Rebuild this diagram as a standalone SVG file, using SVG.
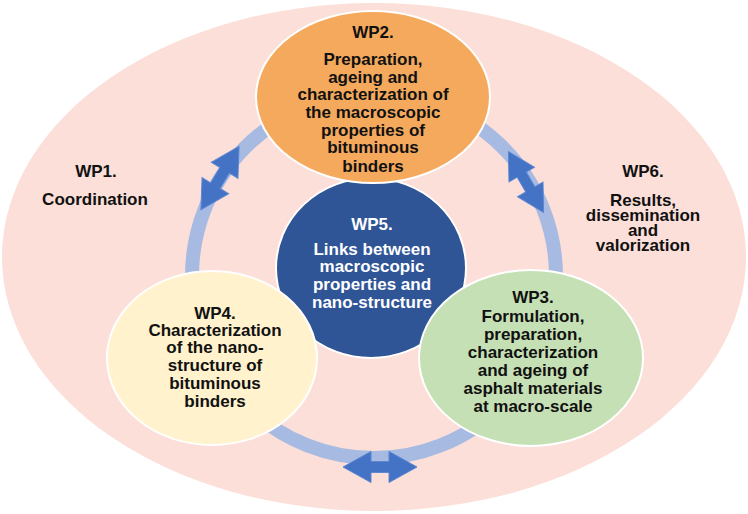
<svg xmlns="http://www.w3.org/2000/svg" width="748" height="514" viewBox="0 0 748 514">
  <defs>
    <style>
      .t { font-family: "Liberation Sans", Arial, sans-serif; font-weight: bold; font-size: 17px; text-anchor: middle; fill: #111; }
      .w { fill: #ffffff; }
      .node { stroke: #ffffff; stroke-width: 2; }
      .arrow { fill: #4472C4; stroke: #5A86D2; stroke-width: 1; }
    </style>
    <!-- double-headed block arrow centred on the origin, pointing along x -->
    <path id="dblArrow" d="M -37,0 L -9,-15.5 L -9,-5.5 L 9,-5.5 L 9,-15.5 L 37,0 L 9,15.5 L 9,5.5 L -9,5.5 L -9,15.5 Z"/>
  </defs>

  <rect width="748" height="514" fill="#ffffff"/>

  <!-- WP1 / WP6 background field -->
  <g id="wp-frame">
    <ellipse cx="374" cy="257" rx="372" ry="254" fill="#FBDFD8"/>
  </g>

  <!-- connecting ring and exchange arrows -->
  <g id="connectors">
    <circle cx="374" cy="276" r="182" fill="none" stroke="#A7BAE2" stroke-width="14"/>
    <use href="#dblArrow" class="arrow" transform="translate(220,178) rotate(-59)"/>
    <use href="#dblArrow" class="arrow" transform="translate(526,182) rotate(60) scale(0.95)"/>
    <use href="#dblArrow" class="arrow" transform="translate(380,467)"/>
  </g>

  <g id="wp1">
    <text class="t" x="96" y="177">WP1.</text>
    <text class="t" x="95" y="205">Coordination</text>
  </g>

  <g id="wp6">
    <text class="t" x="643" y="177">WP6.</text>
    <text class="t" x="643" y="206">Results,</text>
    <text class="t" x="643" y="221">dissemination</text>
    <text class="t" x="643" y="236">and</text>
    <text class="t" x="643" y="251">valorization</text>
  </g>

  <g id="wp5">
    <ellipse class="node" cx="371" cy="268" rx="95" ry="90" fill="#2F5597"/>
    <text class="t w" x="372" y="230">WP5.</text>
    <text class="t w" x="372" y="255">Links between</text>
    <text class="t w" x="372" y="272">macroscopic</text>
    <text class="t w" x="372" y="290">properties and</text>
    <text class="t w" x="372" y="308">nano-structure</text>
  </g>

  <g id="wp2">
    <ellipse class="node" cx="373" cy="97" rx="117" ry="86" fill="#F5A95D"/>
    <text class="t" x="373" y="38">WP2.</text>
    <text class="t" x="373" y="65">Preparation,</text>
    <text class="t" x="373" y="83">ageing and</text>
    <text class="t" x="373" y="100">characterization of</text>
    <text class="t" x="373" y="118">the macroscopic</text>
    <text class="t" x="373" y="136">properties of</text>
    <text class="t" x="373" y="153">bituminous</text>
    <text class="t" x="373" y="172">binders</text>
  </g>

  <g id="wp4">
    <ellipse class="node" cx="212" cy="358" rx="105" ry="87" fill="#FFF2CC"/>
    <text class="t" x="215" y="319">WP4.</text>
    <text class="t" x="215" y="336">Characterization</text>
    <text class="t" x="215" y="353">of the nano-</text>
    <text class="t" x="215" y="371">structure of</text>
    <text class="t" x="215" y="389">bituminous</text>
    <text class="t" x="215" y="407">binders</text>
  </g>

  <g id="wp3">
    <ellipse class="node" cx="531" cy="358" rx="112" ry="88" fill="#C5E0B4"/>
    <text class="t" x="533" y="303">WP3.</text>
    <text class="t" x="533" y="322">Formulation,</text>
    <text class="t" x="533" y="340">preparation,</text>
    <text class="t" x="533" y="358">characterization</text>
    <text class="t" x="533" y="376">and ageing of</text>
    <text class="t" x="533" y="394">asphalt materials</text>
    <text class="t" x="533" y="412">at macro-scale</text>
  </g>
</svg>
